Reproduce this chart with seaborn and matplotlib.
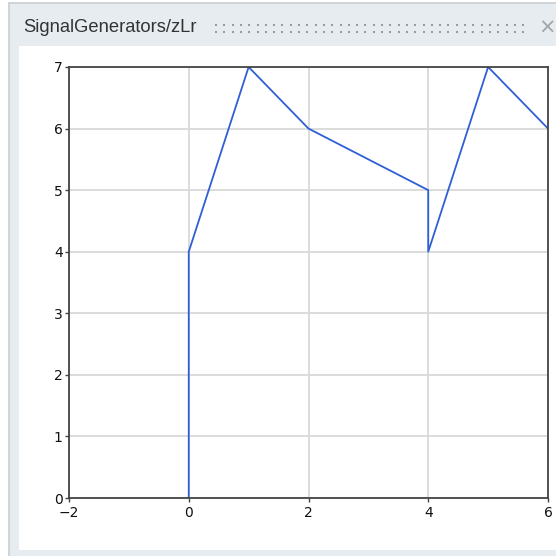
import matplotlib
matplotlib.use('Agg')
import matplotlib.pyplot as plt
import matplotlib.patches as mpatches
import matplotlib.lines as mlines
import numpy as np
import seaborn as sns
import pandas as pd

# Signal samples (time, value)
t_vals = [0, 0, 1, 2, 4, 4, 5, 6]
z_vals = [0, 4, 7, 6, 5, 4, 7, 6]
x_ticks = [-2, 0, 2, 4, 6]
y_ticks = [0, 1, 2, 3, 4, 5, 6, 7]
panel_title = 'SignalGenerators/zLr'

sns.set_theme(style='white')
plt.rcParams['font.family'] = ['DejaVu Sans']

W, H = 556, 556
fig = plt.figure(figsize=(W / 100, H / 100), dpi=100)
fig.patch.set_facecolor('white')


def px_rect(x0, y0, x1, y1, **kw):
    # rectangle in pixel coords (origin top-left)
    return mpatches.Rectangle((x0 / W, 1 - y1 / H), (x1 - x0) / W, (y1 - y0) / H,
                              transform=fig.transFigure, **kw)


# panel frame (behind the axes)
fig.patches.append(px_rect(9, 3, 560, 560, facecolor='#e6ecf0', edgecolor='#c8ced2',
                           lw=1.2, zorder=-2))
fig.patches.append(px_rect(19, 46, 560, 550, facecolor='white', edgecolor='none', zorder=-1))
fig.text(23 / W, 1 - 28 / H, panel_title, fontsize=13.2, color='#333333',
         va='center', ha='left', family=['Liberation Sans', 'DejaVu Sans'])

# drag grip: two rows of small square dots
gx = np.arange(216, 530, 8.3)
for yy in (25, 32):
    fig.lines.append(mlines.Line2D(gx / W, np.full(len(gx), 1 - yy / H),
                                   transform=fig.transFigure, ls='none', marker='s',
                                   ms=2.0, mew=0, color='#969a9e'))
fig.text(547 / W, 1 - 28 / H, '×', fontsize=15, color='#a0a4a8', va='center', ha='center')

ax = fig.add_axes([69 / W, 1 - 498 / H, (548 - 69) / W, (498 - 67) / H])
df = pd.DataFrame({'t': t_vals, 'z': z_vals})
sns.lineplot(data=df, x='t', y='z', sort=False, estimator=None, ax=ax,
             color='#2f5fd6', lw=1.3)

ax.set_xlim(-2, 6)
ax.set_ylim(0, 7)
ax.set_xticks(x_ticks)
ax.set_yticks(y_ticks)
ax.set_xlabel('')
ax.set_ylabel('')
ax.grid(True, color='#d9d9d9', lw=1.3)
ax.set_axisbelow(True)
for s in ax.spines.values():
    s.set_visible(True)
    s.set_color('#444444')
    s.set_linewidth(1.3)
ax.tick_params(axis='both', which='major', direction='out', length=3, width=1,
               color='#444444', labelsize=10, labelcolor='#111111')
ax.tick_params(axis='x', pad=3)
ax.tick_params(axis='y', pad=1.5)
ax.tick_params(axis='both', bottom=True, left=True)

fig.savefig('out.png', dpi=100)
